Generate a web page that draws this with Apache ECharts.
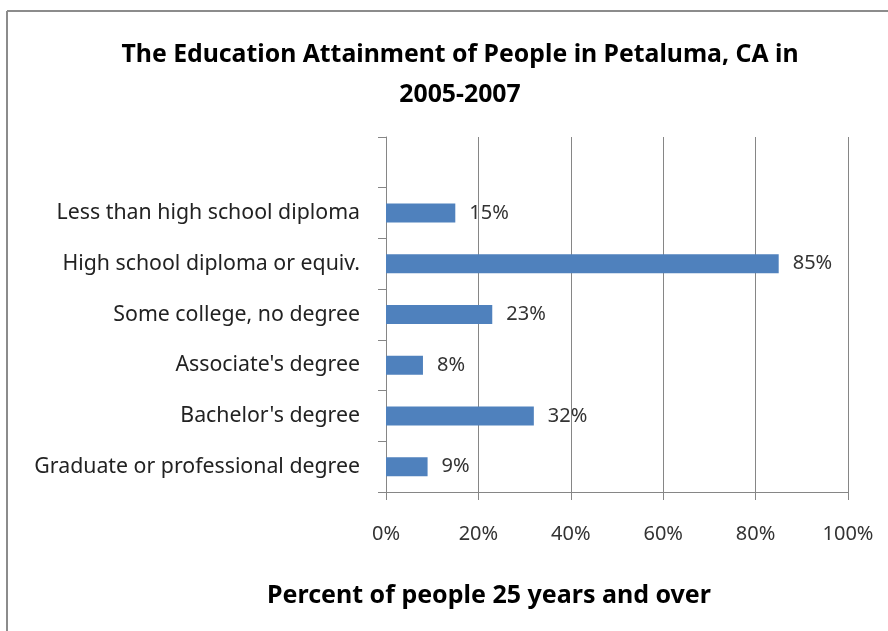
<!DOCTYPE html>
<html>
<head>
<meta charset="utf-8">
<script src="https://cdn.jsdelivr.net/npm/echarts@6/dist/echarts.min.js"></script>
<style>
html,body{margin:0;padding:0;background:#fff;}
#chart{width:888px;height:631px;}
</style>
</head>
<body>
<div id="chart"></div>
<script>
const categories = ['', 'Less than high school diploma', 'High school diploma or equiv.', 'Some college, no degree', "Associate's degree", "Bachelor's degree", 'Graduate or professional degree'];
const values = [null, 15, 85, 23, 8, 32, 9];
const xTicks = [0, 20, 40, 60, 80, 100];
const titleText = 'The Education Attainment of People in Petaluma, CA in\n2005-2007';
const xAxisName = 'Percent of people 25 years and over';

const chart = echarts.init(document.getElementById('chart'));
const font = '"Noto Sans", "Open Sans", sans-serif';
chart.setOption({
  animation: false,
  backgroundColor: '#fff',
  graphic: [
    {type: 'line', shape: {x1: 7, y1: 11, x2: 888, y2: 11}, style: {stroke: '#8c8c8c', lineWidth: 2}},
    {type: 'line', shape: {x1: 7, y1: 11, x2: 7, y2: 631}, style: {stroke: '#8c8c8c', lineWidth: 2}}
  ],
  title: [{
    text: titleText,
    left: 455, top: 30, textAlign: 'center',
    textStyle: {fontFamily: font, fontSize: 24.8, fontWeight: 'bold', color: '#000', lineHeight: 40}
  }, {
    text: xAxisName,
    left: 484, top: 578, textAlign: 'center',
    textStyle: {fontFamily: font, fontSize: 25, fontWeight: 'bold', color: '#000'}
  }],
  grid: {left: 386, right: 40, top: 137, bottom: 139, containLabel: false},
  xAxis: {
    type: 'value', min: 0, max: 100, interval: 20,
    axisLine: {show: true, lineStyle: {color: '#868686', width: 1}},
    axisTick: {show: true, length: 8, lineStyle: {color: '#868686'}},
    axisLabel: {formatter: v => xTicks.includes(v) ? v + '%' : '', margin: 32, fontFamily: font, fontSize: 20, color: '#333'},
    splitLine: {show: true, lineStyle: {color: '#868686', width: 1}}
  },
  yAxis: {
    type: 'category', data: categories, inverse: true,
    axisLine: {show: true, lineStyle: {color: '#868686', width: 1}},
    axisTick: {show: true, length: 8, alignWithLabel: false, lineStyle: {color: '#868686'}},
    axisLabel: {margin: 26, fontFamily: font, fontSize: 21.3, color: '#222'},
    splitLine: {show: false}
  },
  series: [{
    type: 'bar', data: values, barWidth: 19,
    itemStyle: {color: '#4F81BD'},
    label: {show: true, position: 'right', distance: 14, formatter: p => p.value + '%', fontFamily: font, fontSize: 20, color: '#333'}
  }]
});
</script>
</body>
</html>
